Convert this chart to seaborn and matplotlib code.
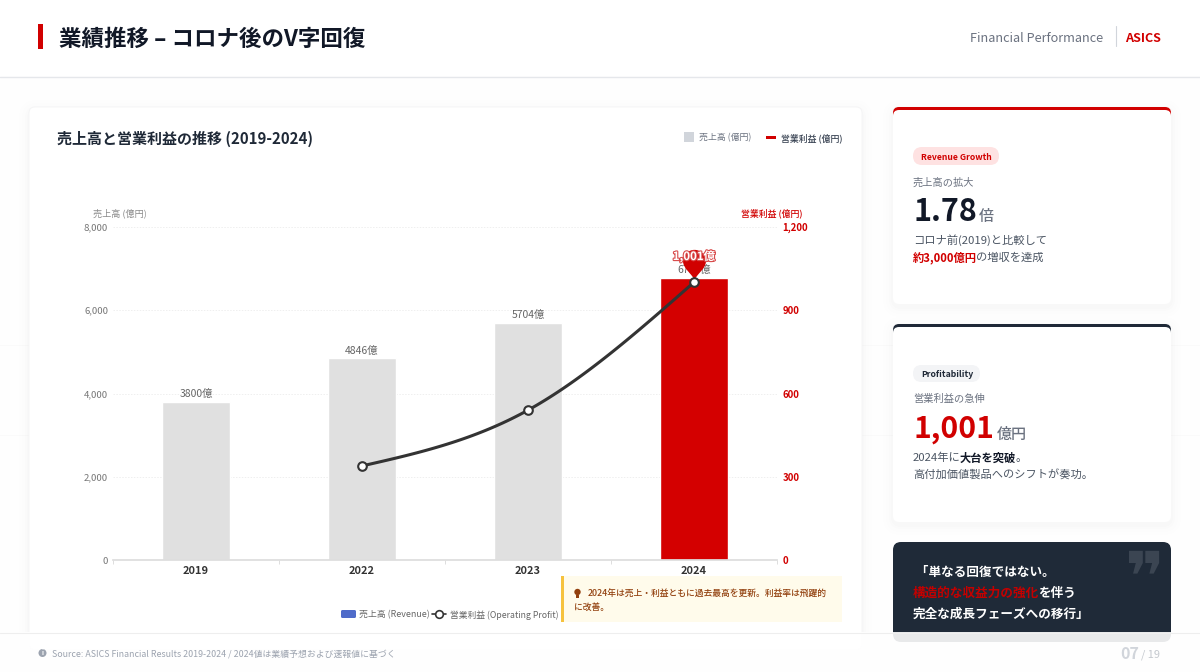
import numpy as np
import pandas as pd
import matplotlib
matplotlib.use("Agg")
import matplotlib.pyplot as plt
import matplotlib.patheffects as pe
import seaborn as sns
from matplotlib.patches import FancyBboxPatch, Rectangle, Circle
from matplotlib.path import Path

years = ["2019", "2022", "2023", "2024"]
revenue = [3800, 4846, 5704, 6785]
profit = [np.nan, 339, 540, 1001]
rev_ticks = [0, 2000, 4000, 6000, 8000]
profit_ticks = [0, 300, 600, 900, 1200]

RED = "#d10000"
NAVY = "#1f2937"
GRAY = "#6b7280"

sns.set_theme(style="white")
FONT = ["Noto Sans CJK JP", "DejaVu Sans"]
plt.rcParams["font.family"] = FONT

fig = plt.figure(figsize=(12, 6.72), dpi=100, facecolor="#fefefe")
PX = 0.72


def page_axes(z):
    a = fig.add_axes([0, 0, 1, 1], zorder=z, facecolor="none")
    a.set_xlim(0, 1200)
    a.set_ylim(672, 0)
    a.axis("off")
    return a


back = page_axes(0)
front = page_axes(5)


def rrect(a, x0, y0, x1, y1, r, **kw):
    p = FancyBboxPatch((x0 + r, y0 + r), x1 - x0 - 2 * r, y1 - y0 - 2 * r,
                       boxstyle=f"round,pad={r},rounding_size={r}",
                       mutation_aspect=1, **kw)
    a.add_patch(p)
    return p


def txt(a, x, y, s, px, color, weight="normal", ha="left", **kw):
    return a.text(x, y, s, fontsize=px * PX, color=color, fontweight=weight,
                  ha=ha, va="center", family=FONT, **kw)


def runs(a, x, y, parts):
    r = fig.canvas.get_renderer()
    inv = a.transData.inverted()
    for s, px, color, weight in parts:
        t = txt(a, x, y, s, px, color, weight)
        e = t.get_window_extent(r)
        x = inv.transform((e.x1, e.y0))[0] - 1


def shadow(a, x0, y0, x1, y1, r=8):
    for i, al in ((10, .004), (7, .005), (4, .006), (2, .007)):
        rrect(a, x0 - i, y0 - i + 3, x1 + i, y1 + i + 3, r + i,
              fc="#000000", ec="none", alpha=al)


# page furniture
for yy in (345, 435):
    back.plot([0, 1200], [yy, yy], color="#fafafa", lw=.7, zorder=0)
back.add_patch(Rectangle((0, 0), 1200, 76, fc="#ffffff", ec="none"))
back.plot([0, 1200], [76.5, 76.5], color="#e5e7eb", lw=1)
back.add_patch(Rectangle((38, 24), 5, 25, fc=RED, ec="none"))
txt(back, 59, 39.5, "業績推移 – コロナ後のV字回復", 22.5, "#111827", "bold")
txt(back, 970, 38, "Financial Performance", 12.7, GRAY, "normal")
back.plot([1115.5, 1115.5], [26, 46], color="#d1d5db", lw=.8)
txt(back, 1125, 38, "ASICS", 12.6, RED, "bold")

# main card
shadow(back, 29, 107, 862, 650)
rrect(back, 29, 107, 862, 650, 6, fc="#ffffff", ec="#f5f5f6", lw=.7)
txt(back, 57, 139, "売上高と営業利益の推移 (2019-2024)", 15, NAVY, "bold")
back.add_patch(Rectangle((684, 132), 10, 10, fc="#d1d5db", ec="none"))
txt(back, 699, 138, "売上高 (億円)", 8.9, GRAY)
back.add_patch(Rectangle((766, 136), 10, 2.5, fc=RED, ec="none"))
txt(back, 781, 138, "営業利益 (億円)", 8.9, "#374151", "medium")
txt(back, 93, 213, "売上高 (億円)", 9.1, "#8a8a8a")
txt(back, 741, 213, "営業利益 (億円)", 8.9, RED, "medium")

# side cards
for (y0, y1, col) in ((107, 304, RED), (324, 522, NAVY)):
    shadow(back, 893, y0, 1171, y1)
    rrect(back, 893, y0, 1171, y1 - 40, 6, fc=col, ec="none")
    rrect(back, 893, y0 + 3, 1171, y1, 6, fc="#ffffff", ec="none")

rrect(back, 913, 147, 999, 165, 9, fc="#fee2e2", ec="none")
txt(back, 921, 157, "Revenue Growth", 8.6, RED, "bold")
txt(back, 913, 182.5, "売上高の拡大", 10.2, GRAY)
txt(back, 913, 212, "1.78", 30.5, "#111827", "bold")
txt(back, 979, 217, "倍", 15, GRAY, "medium")
txt(back, 913, 240.5, "コロナ前(2019)と比較して", 11.3, "#4b5563")
runs(back, 913, 258, [("約3,000億円", 11.3, RED, "bold"), ("の増収を達成", 11.3, "#4b5563", "normal")])

rrect(back, 913, 365, 980, 382, 8.5, fc="#f3f4f6", ec="none")
txt(back, 921, 374.5, "Profitability", 8.7, NAVY, "bold")
txt(back, 913, 398.5, "営業利益の急伸", 10.2, GRAY)
txt(back, 913, 429.5, "1,001", 30, RED, "bold")
txt(back, 997, 434, "億円", 15, GRAY, "medium")
runs(back, 913, 458, [("2024年に", 11.3, "#4b5563", "normal"), ("大台を突破", 11.3, "#111827", "bold"),
                      ("。", 11.3, "#4b5563", "normal")])
txt(back, 913, 475, "高付加価値製品へのシフトが奏功。", 11.2, "#4b5563")

rrect(back, 893, 542, 1171, 642, 8, fc="#1f2a38", ec="none")
txt(back, 1145, 580, "❞", 68, "#3b4552", "bold", ha="center", clip_on=False).set_family("DejaVu Sans")
txt(back, 913, 572.5, " 「単なる回復ではない。", 12.6, "#ffffff", "bold")
runs(back, 913, 593, [("構造的な収益力の強化", 12.6, "#c40000", "bold"), ("を伴う", 12.6, "#ffffff", "bold")])
txt(back, 913, 614, "完全な成長フェーズへの移行」", 12.6, "#ffffff", "bold")

# chart
df = pd.DataFrame({"year": years, "revenue": revenue, "profit": profit})
ax = fig.add_axes([113 / 1200, 1 - 560 / 672, 664 / 1200, 333 / 672], zorder=2, facecolor="none")
sns.barplot(data=df, x="year", y="revenue", hue="year", ax=ax, width=0.41, legend=False,
            palette=["#e0e0e0", "#e0e0e0", "#e0e0e0", "#d40000"], saturation=1)
ax.set_xlim(-0.5, 3.5)
ax.set_ylim(0, 8000)
ax.set_yticks(rev_ticks, [f"{v:,}" for v in rev_ticks])
ax.set_xlabel("")
ax.set_ylabel("")
ax.tick_params(axis="y", length=0, pad=3.5, labelsize=9.6 * PX, labelcolor="#777777")
ax.tick_params(axis="x", length=0, pad=4.5, labelsize=11 * PX, labelcolor="#333333")
for lab in ax.get_xticklabels():
    lab.set_fontweight("bold")
ax.set_xticks(np.arange(-0.5, 4), minor=True)
ax.tick_params(axis="x", which="minor", length=3, color="#dddddd", width=.7, bottom=True)
ax.yaxis.grid(True, color="#efefef", lw=.7, ls=(0, (1.5, 1.5)))
ax.set_axisbelow(True)
sns.despine(ax=ax, left=True)
ax.spines["bottom"].set_color("#dddddd")
for i, v in enumerate(revenue):
    ax.annotate(f"{v}億", (i, v), xytext=(0, 5.5), textcoords="offset points",
                ha="center", va="center", fontsize=10.4 * PX, color="#666666", family=FONT)

ax2 = ax.twinx()
ax2.set_zorder(3)
ax2.set_facecolor("none")
ax2.set_ylim(0, 1200)
ax2.set_yticks(profit_ticks, [f"{v:,}" for v in profit_ticks])
ax2.tick_params(axis="y", length=0, pad=4, labelsize=9.6 * PX, labelcolor=RED)
for lab in ax2.get_yticklabels():
    lab.set_fontweight("bold")
ax2.grid(False)
sns.despine(ax=ax2, left=True, right=True, bottom=True)

# natural cubic spline through the known profit values
known = df.dropna(subset=["profit"])
kx = known.index.to_numpy(dtype=float)
ky = known["profit"].to_numpy()
d = np.diff(ky)
n = len(ky)
A = np.zeros((n, n))
b = np.zeros(n)
A[0, :2] = [2, 1]
b[0] = 3 * d[0]
A[-1, -2:] = [1, 2]
b[-1] = 3 * d[-1]
for j in range(1, n - 1):
    A[j, j - 1:j + 2] = [1, 4, 1]
    b[j] = 3 * (d[j - 1] + d[j])
slopes = np.linalg.solve(A, b)
curve_x, curve_y = [], []
for j in range(n - 1):
    t = np.linspace(0, 1, 40)
    h00 = 2 * t**3 - 3 * t**2 + 1
    h10 = t**3 - 2 * t**2 + t
    h01 = -2 * t**3 + 3 * t**2
    h11 = t**3 - t**2
    curve_x.extend(kx[j] + t)
    curve_y.extend(h00 * ky[j] + h10 * slopes[j] + h01 * ky[j + 1] + h11 * slopes[j + 1])
sns.lineplot(x=curve_x, y=curve_y, ax=ax2, color="#333333", lw=2.2, sort=False, errorbar=None)
ax2.plot(kx, ky, ls="none", marker="o", ms=6.2, mfc="#ffffff", mec="#333333", mew=1.5, zorder=6)
ax2.set_xlabel("")
ax2.set_ylabel("")

# pin on the latest value
K = 0.5523
R = 0.39
CY = 0.72
T = 0.11
pin = Path([(0, T), (-0.12, 0.3), (-R, 0.49), (-R, CY),
            (-R, CY + R * K), (-R * K, CY + R), (0, CY + R),
            (R * K, CY + R), (R, CY + R * K), (R, CY),
            (R, 0.49), (0.12, 0.3), (0, T), (0, T)],
           [Path.MOVETO, Path.CURVE4, Path.CURVE4, Path.CURVE4,
            Path.CURVE4, Path.CURVE4, Path.CURVE4,
            Path.CURVE4, Path.CURVE4, Path.CURVE4,
            Path.CURVE4, Path.CURVE4, Path.CURVE4, Path.CLOSEPOLY])
ax2.plot([kx[-1]], [ky[-1]], ls="none", marker=pin, ms=47, mfc=RED, mec="none", zorder=5)
ax2.annotate("1,001億", (kx[-1], ky[-1]), xytext=(0, 18.5), textcoords="offset points", ha="center",
             va="center", fontsize=11.5 * PX, color="#ffffff", fontweight="bold", family=FONT, zorder=7,
             path_effects=[pe.withStroke(linewidth=1.6, foreground="#d84a4a")])

# bottom legend
rrect(front, 341, 610, 356, 618, 1.5, fc="#4f6bc9", ec="none")
txt(front, 359, 615, "売上高 (Revenue)", 8.9, "#666666")
front.plot([432, 446], [614, 614], color="#333333", lw=1.2)
front.plot([439], [614], marker="o", ms=5.5, mfc="#ffffff", mec="#333333", mew=1.2)
txt(front, 450, 615, "営業利益 (Operating Profit)", 8.75, "#666666")

# callout
front.add_patch(Rectangle((561, 576), 281, 46, fc="#fffbeb", ec="none"))
front.add_patch(Rectangle((561, 576), 3, 46, fc="#f6c23e", ec="none"))
front.add_patch(Circle((577.5, 592), 3.2, fc="#92400e", ec="none"))
front.add_patch(Rectangle((576, 595), 3, 2.5, fc="#92400e", ec="none"))
txt(front, 588, 594, "2024年は売上・利益ともに過去最高を更新。利益率は飛躍的", 8.8, "#92400e", "medium")
txt(front, 574, 607, "に改善。", 8.8, "#92400e", "medium")

# footer
front.add_patch(Rectangle((0, 632), 1200, 40, fc="#ffffff", ec="none", alpha=.9))
front.plot([0, 1200], [632.5, 632.5], color="#eeeeee", lw=.8)
front.add_patch(Circle((42.5, 653), 4, fc="#9ca3af", ec="none"))
txt(front, 42.5, 652.8, "i", 6.5, "#ffffff", "bold", ha="center")
txt(front, 52, 654, "Source: ASICS Financial Results 2019-2024 / 2024値は業績予想および速報値に基づく", 8.85, "#9ca3af")
txt(front, 1120, 654, "07", 16, "#d1d5db", "bold")
txt(front, 1141, 655, "/ 19", 11, "#c4c8ce")

fig.savefig("out.png", dpi=100, facecolor=fig.get_facecolor())
